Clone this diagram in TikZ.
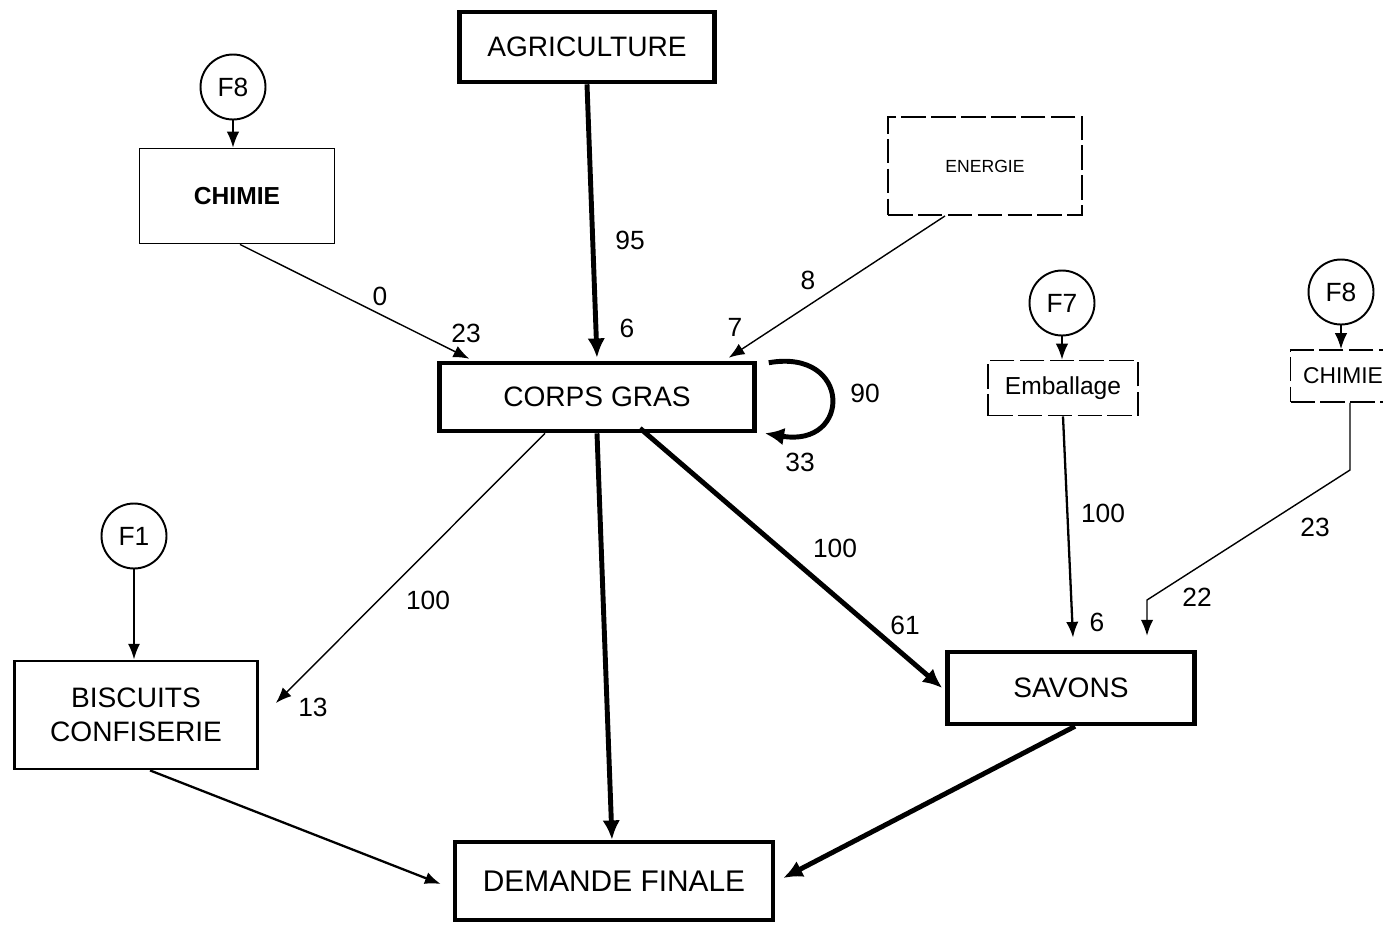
\documentclass[tikz,border=0pt]{standalone}
\usepackage{fontspec}
\setmainfont{Liberation Sans}
\usetikzlibrary{arrows.meta,calc}

\tikzset{
  bigbox/.style={draw, line width=2.6pt, minimum width=#1, inner sep=0pt, align=center},
  smallbox/.style={draw, line width=1.1pt, minimum width=#1, inner sep=0pt, align=center},
  faintbox/.style={draw, line width=1.1pt, dash pattern=on 14pt off 3pt, minimum width=#1, inner sep=0pt, align=center},
  fcirc/.style={draw, circle, line width=1.1pt, minimum size=1.3cm, inner sep=0pt, font=\fontsize{15}{18}\selectfont},
  flow/.style={line width=0.8pt, -{Latex[length=9pt,width=7pt]}},
  bigflow/.style={line width=2.8pt, -{Latex[length=11pt,width=10pt]}},
  val/.style={font=\fontsize{15}{18}\selectfont}
}

\begin{document}
\begin{tikzpicture}[x=0.02cm, y=-0.02cm]

        \useasboundingbox (0,0) rectangle (1383,924);

        % Main boxes
        \node[bigbox=5.1cm, minimum height=1.4cm, font=\fontsize{16}{19}\selectfont] (agri) at (587,47) {AGRICULTURE};
        \node[bigbox=6.3cm, minimum height=1.36cm, font=\fontsize{16}{19}\selectfont] (corps) at (597,397) {CORPS GRAS};
        \node[bigbox=4.94cm, minimum height=1.44cm, font=\fontsize{16}{19}\selectfont] (savons) at (1071,688) {SAVONS};
        \node[bigbox=6.36cm, minimum height=1.56cm, font=\fontsize{17}{20}\selectfont] (demande) at (614,881) {DEMANDE FINALE};

        % Supplier boxes
        \node[smallbox=3.9cm, minimum height=1.9cm, font=\fontsize{14}{17}\selectfont\bfseries] (chimie) at (237,196) {CHIMIE};
        \node[faintbox=3.88cm, minimum height=1.96cm, font=\fontsize{10}{13}\selectfont] (energie) at (985,166) {ENERGIE};
        \node[faintbox=3cm, minimum height=1.1cm, font=\fontsize{14}{17}\selectfont] (emball) at (1063,388) {Emballage};
        \node[faintbox=2.1cm, minimum height=1.04cm, font=\fontsize{13}{16}\selectfont] (chimiebis) at (1343,376) {CHIMIE};
        \node[smallbox=4.86cm, minimum height=2.16cm, line width=1.6pt, font=\fontsize{16}{19}\selectfont] (biscuits) at (136,715) {BISCUITS\\CONFISERIE};

        % Circles
        \node[fcirc] (f8a) at (233,87) {F8};
        \node[fcirc] (f7) at (1062,303) {F7};
        \node[fcirc] (f8b) at (1341,292) {F8};
        \node[fcirc] (f1) at (134,536) {F1};

        % Circle arrows
        \draw[flow] (f8a) -- (chimie.north -| f8a);
        \draw[flow] (f7) -- (emball.north -| f7);
        \draw[flow] (f8b) -- (chimiebis.north -| f8b);
        \draw[flow, line width=1.4pt] (f1) -- (biscuits.north -| f1);

        % Into corps gras
        \draw[bigflow] (agri.south) -- ($(corps.north)+(0,-3)$);
        \node[val] (l95) at (630,240) {95};
        \node[val] (l6a) at (627,328) {6};

        \draw[flow] ($(chimie.south)+(3,0)$) -- ($(corps.north west)+(32,-2)$);
        \node[val] (l0) at (380,296) {0};
        \node[val] (l23a) at (466,333) {23};

        \draw[flow] ($(energie.south)+(-40,0)$) -- ($(corps.north east)+(-28,-3)$);
        \node[val] (l8) at (808,280) {8};
        \node[val] (l7) at (735,327) {7};

        % Self loop
        \draw[bigflow] ($(corps.north east)+(12,2)$) .. controls (852,348) and (852,448) .. ($(corps.south east)+(8,0)$);
        \node[val] (l90) at (865,393) {90};
        \node[val] (l33) at (800,462) {33};

        % Out of corps gras
        \draw[flow] ($(corps.south)+(-52,0)$) -- ($(biscuits.east)+(17,-12)$);
        \node[val] (l100a) at (428,600) {100};
        \node[val] (l13) at (313,707) {13};

        \draw[bigflow] (corps.south) -- ($(demande.north)+(-2,0)$);

        \draw[bigflow] ($(corps.south)+(43,-5)$) -- ($(savons.west)+(-3,0)$);
        \node[val] (l100b) at (835,548) {100};
        \node[val] (l61) at (905,625) {61};

        % Into savons
        \draw[flow, line width=1.3pt] (emball.south) -- ($(savons.north)+(2,-12)$);
        \node[val] (l100c) at (1103,513) {100};
        \node[val] (l6b) at (1097,622) {6};

        \coordinate (bendA) at (1350,470);
        \coordinate (bendB) at (1147,600);
        \draw[flow] ($(chimiebis.south)+(7,0)$) -- (bendA) -- (bendB) -- ($(savons.north)+(76,-14)$);
        \node[val] (l23b) at (1315,527) {23};
        \node[val] (l22) at (1197,597) {22};

        % Final demand
        \draw[flow, line width=1.3pt] ($(biscuits.south)+(14,0)$) -- ($(demande.west)+(-12,3)$);
        \draw[bigflow] ($(savons.south)+(4,0)$) -- ($(demande.east)+(8,-3)$);

\end{tikzpicture}
\end{document}
